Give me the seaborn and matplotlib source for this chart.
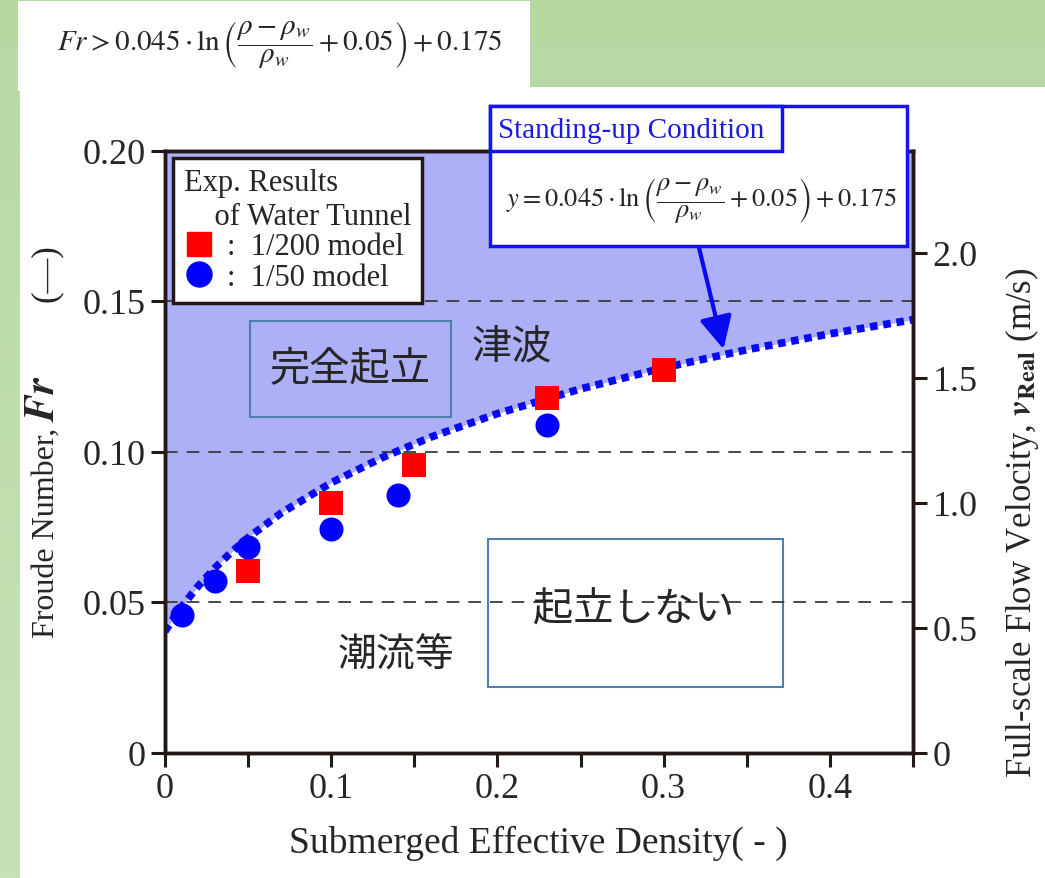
import numpy as np
import pandas as pd
import seaborn as sns
import matplotlib.pyplot as plt
from matplotlib.patches import Rectangle
from matplotlib.lines import Line2D
from matplotlib.colors import LinearSegmentedColormap

# Experimental results (water tunnel)
density_1_200 = [0.05, 0.10, 0.15, 0.23, 0.30]
froude_1_200 = [0.0604, 0.0829, 0.0956, 0.1177, 0.1272]
density_1_50 = [0.01, 0.03, 0.05, 0.10, 0.14, 0.23]
froude_1_50 = [0.0457, 0.0571, 0.0684, 0.0743, 0.0856, 0.1088]

# Standing-up condition curve
curve_density = [0.0, 0.005, 0.01, 0.02, 0.03, 0.04, 0.05, 0.07, 0.10, 0.13,
                 0.16, 0.20, 0.25, 0.30, 0.35, 0.40, 0.45]
curve_froude = [0.0402, 0.0445, 0.0484, 0.0553, 0.0613, 0.0666, 0.0714, 0.0796,
                0.0896, 0.0978, 0.1048, 0.1126, 0.1208, 0.1278, 0.1338, 0.1391, 0.1438]

x_ticks = [0, 0.1, 0.2, 0.3, 0.4]
x_tick_labels = ['0', '0.1', '0.2', '0.3', '0.4']
x_minor = [0.05, 0.15, 0.25, 0.35, 0.45]
fr_ticks = [0, 0.05, 0.10, 0.15, 0.20]
fr_tick_labels = ['0', '0.05', '0.10', '0.15', '0.20']
v_ticks = [0, 0.5, 1.0, 1.5, 2.0]
v_tick_labels = ['0', '0.5', '1.0', '1.5', '2.0']
v_per_fr = 12.04  # right axis scale (m/s per unit Fr)

sns.set_style('ticks')
plt.rcParams['font.family'] = ['Liberation Serif', 'DejaVu Serif']
plt.rcParams['mathtext.fontset'] = 'stix'

W, H = 1045, 879
fig = plt.figure(figsize=(W / 100, H / 100), dpi=100)

def fx(x):
    return x / W

def fy(y):
    return 1 - y / H

# slide background: green gradient with white panels
bg = fig.add_axes([0, 0, 1, 1], zorder=-10)
grad = np.linspace(0, 1, 256).reshape(-1, 1)
cmap_bg = LinearSegmentedColormap.from_list('bg', ['#b6d9a2', '#c8e2b8'])
bg.imshow(grad, aspect='auto', cmap=cmap_bg, extent=[0, 1, 0, 1], origin='upper')
bg.add_patch(Rectangle((fx(20), 0), 1, fy(88), color='white', lw=0))
bg.add_patch(Rectangle((fx(18), fy(92)), fx(512), 90 / H, color='white', lw=0))
bg.set_axis_off()

ax = fig.add_axes([fx(165), fy(753.5), fx(748), 602 / H])
dark = '#231815'

# region above the curve
ax.fill_between(curve_density, curve_froude, 0.2, color='#adaff7', lw=0, zorder=1)

# boxes around the region labels
ax.add_patch(Rectangle((0.1944, 0.0218), 0.1776, 0.0491, facecolor='white',
                       edgecolor='#4f7fad', lw=1.5, zorder=1.5))
ax.add_patch(Rectangle((0.051, 0.1113), 0.1212, 0.0321, fill=False,
                       edgecolor='#4f7fad', lw=1.5, zorder=3))

for yv in [0.05, 0.10, 0.15]:
    ax.axhline(yv, color='#3a3a3a', lw=1.3, ls=(0, (7, 5)), zorder=2)

sns.lineplot(x=curve_density, y=curve_froude, ax=ax, color='#0a0af0', lw=5.5,
             linestyle=(0, (1.0, 0.75)), zorder=4)

sns.scatterplot(x=density_1_200, y=froude_1_200, ax=ax, marker='s', color='#ff0000',
                s=280, linewidth=0, zorder=5, legend=False)
sns.scatterplot(x=density_1_50, y=froude_1_50, ax=ax, marker='o', color='#0000ff',
                s=300, linewidth=0, zorder=5, legend=False)

ax.set_xlim(0, 0.45)
ax.set_ylim(0, 0.2)
ax.set_xticks(x_ticks)
ax.set_xticklabels(x_tick_labels)
ax.set_xticks(x_minor, minor=True)
ax.set_yticks(fr_ticks)
ax.set_yticklabels(fr_tick_labels)
ax.tick_params(which='both', direction='out', length=10, width=2.2, color=dark,
               labelsize=26, pad=4)
ax.set_xlabel('')
ax.set_ylabel('')
for sp in ax.spines.values():
    sp.set_linewidth(2.5)
    sp.set_color(dark)

ax2 = ax.twinx()
ax2.set_ylim(0, 0.2 * v_per_fr)
ax2.set_yticks(v_ticks)
ax2.set_yticklabels(v_tick_labels)
ax2.tick_params(direction='out', length=10, width=2.2, color=dark, labelsize=26, pad=4)
for sp in ax2.spines.values():
    sp.set_linewidth(2.5)
    sp.set_color(dark)

# legend
handles = [Line2D([], [], marker='s', ls='', color='#ff0000', markersize=17),
           Line2D([], [], marker='o', ls='', color='#0000ff', markersize=18)]
leg = ax.legend(handles, [':  1/200 model', ':  1/50 model'],
                title='Exp. Results\n    of Water Tunnel', loc='upper left',
                bbox_to_anchor=(0.011, 0.988), borderaxespad=0, frameon=True,
                fancybox=False, framealpha=1, edgecolor=dark, fontsize=22,
                title_fontsize=22, alignment='left', handletextpad=0.4,
                handlelength=1.0, labelspacing=0.05, borderpad=0.35)
leg.get_frame().set_linewidth(2.5)
leg.set_zorder(10)

# Japanese region labels
jp = ['Noto Sans CJK JP', 'DejaVu Sans']
ax.text(0.1116, 0.1274, '完全起立', family=jp, fontsize=29, ha='center', va='center', zorder=6)
ax.text(0.2088, 0.1350, '津波', family=jp, fontsize=29, ha='center', va='center', zorder=6)
ax.text(0.2820, 0.0477, '起立しない', family=jp, fontsize=29, ha='center', va='center', zorder=6)
ax.text(0.1390, 0.0327, '潮流等', family=jp, fontsize=28, ha='center', va='center', zorder=6)

# arrow from condition box to the curve
ax.annotate('', xy=(0.336, 0.134), xytext=(0.321, 0.1683),
            arrowprops=dict(arrowstyle='-|>,head_length=0.9,head_width=0.45',
                            color='#0a0af0', lw=3, mutation_scale=22,
                            shrinkA=0, shrinkB=0),
            annotation_clip=False, zorder=6)

# "Standing-up Condition" box
blue = '#1414f0'
fig.add_artist(Rectangle((fx(490), fy(247)), fx(417), 140 / H, transform=fig.transFigure,
                         facecolor='white', edgecolor=blue, lw=2.5, zorder=5))
fig.add_artist(Rectangle((fx(490), fy(152)), fx(292), 45 / H, transform=fig.transFigure,
                         facecolor='white', edgecolor=blue, lw=2.5, zorder=6))
fig.text(fx(498), fy(131), 'Standing-up Condition', color='#1a1ae0', fontsize=21,
         ha='left', va='center', zorder=7)
fig.text(fx(702), fy(200),
         r'$y = 0.045\cdot\ln\left(\dfrac{\rho-\rho_w}{\rho_w}+0.05\right)+0.175$',
         fontsize=19, ha='center', va='center', zorder=7)

# top-left formula
fig.text(fx(280), fy(45),
         r'$Fr > 0.045\cdot\ln\left(\dfrac{\rho-\rho_w}{\rho_w}+0.05\right)+0.175$',
         fontsize=21, ha='center', va='center')

# axis labels
fig.text(fx(538), fy(843), 'Submerged Effective Density( - )', fontsize=27,
         ha='center', va='center')
fig.text(fx(46), fy(533), 'Froude Number,', fontsize=23,
         rotation=90, ha='center', va='center')
fig.text(fx(44), fy(399), r'$\mathbfit{Fr}$', fontsize=30,
         rotation=90, ha='center', va='center')
fig.text(fx(46), fy(273), '(—)', fontsize=25,
         rotation=90, ha='center', va='center')
fig.text(fx(1022), fy(523), r'Full-scale Flow Velocity, $\mathbfit{v}_{\mathbf{Real}}$ (m/s)',
         fontsize=25, rotation=90, ha='center', va='center')

fig.savefig('out.png', dpi=100)
